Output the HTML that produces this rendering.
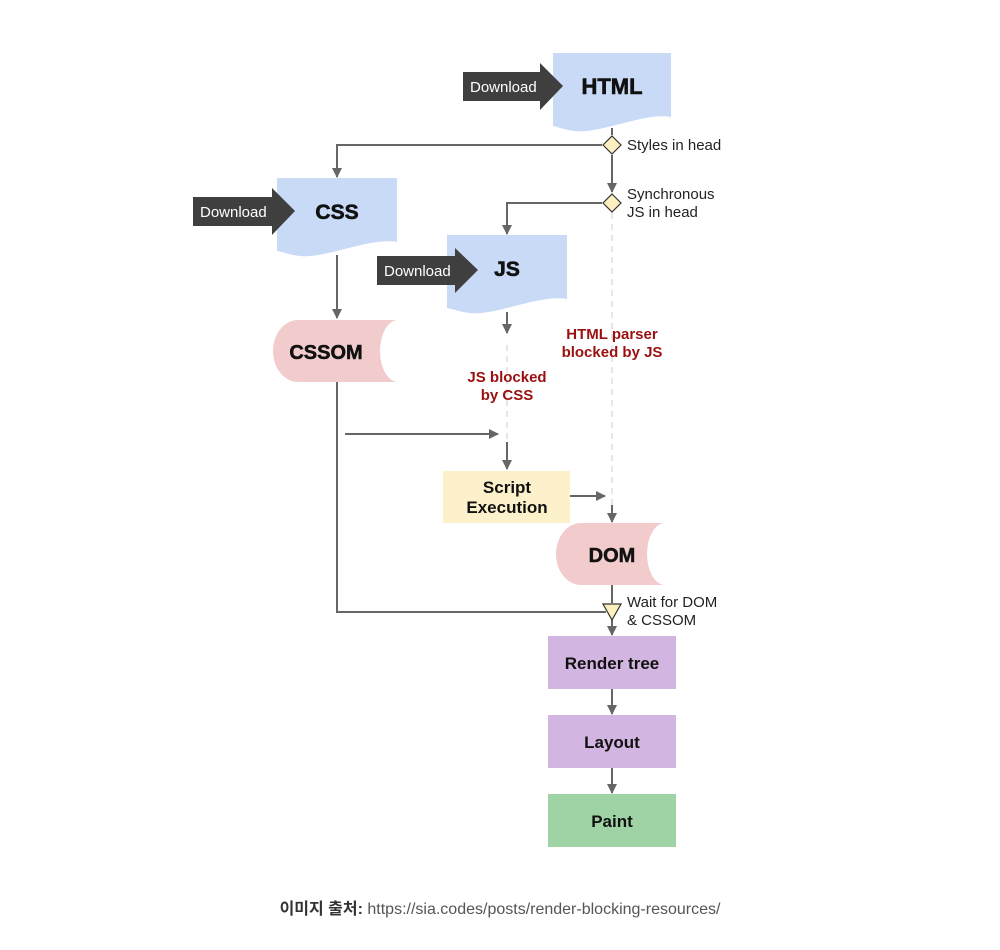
<!DOCTYPE html>
<html><head><meta charset="utf-8"><style>
html,body{margin:0;padding:0;background:#fff;width:1000px;height:950px;overflow:hidden}
svg{display:block}
.b{font-family:"Liberation Sans","DejaVu Sans",sans-serif;font-weight:bold;fill:#111}
.n{font-family:"Liberation Sans","DejaVu Sans",sans-serif;fill:#222}
.r{font-family:"Liberation Sans","DejaVu Sans",sans-serif;font-weight:bold;fill:#9a1010;font-size:15px}
</style></head><body>
<svg width="1000" height="950" viewBox="0 0 1000 950" xmlns="http://www.w3.org/2000/svg">
<defs><marker id="a" markerWidth="10" markerHeight="10" refX="9" refY="5" orient="auto" markerUnits="userSpaceOnUse"><path d="M0,0 L10,5 L0,10 Z" fill="#666"/></marker></defs>
<g stroke="#666" stroke-width="2" fill="none">
<line x1="612" y1="128" x2="612" y2="135"/>
<polyline points="602,145 337,145 337,177" marker-end="url(#a)"/>
<line x1="612" y1="155" x2="612" y2="192" marker-end="url(#a)"/>
<polyline points="602,203 507,203 507,234" marker-end="url(#a)"/>
<line x1="337" y1="255" x2="337" y2="318" marker-end="url(#a)"/>
<line x1="507" y1="312" x2="507" y2="333" marker-end="url(#a)"/>
<line x1="345" y1="434" x2="498" y2="434" marker-end="url(#a)"/>
<line x1="507" y1="442" x2="507" y2="469" marker-end="url(#a)"/>
<line x1="570" y1="496" x2="605" y2="496" marker-end="url(#a)"/>
<line x1="612" y1="505" x2="612" y2="522" marker-end="url(#a)"/>
<polyline points="337,382 337,612 606,612"/>
<line x1="612" y1="585" x2="612" y2="603"/>
<line x1="612" y1="620" x2="612" y2="635" marker-end="url(#a)"/>
<line x1="612" y1="689" x2="612" y2="714" marker-end="url(#a)"/>
<line x1="612" y1="768" x2="612" y2="793" marker-end="url(#a)"/>
</g>
<g stroke="#ddd" stroke-width="1.5" stroke-dasharray="6,5" fill="none">
<line x1="612" y1="213" x2="612" y2="505"/>
<line x1="507" y1="345" x2="507" y2="442"/>
</g>
<g fill="#c8daf5">
<path d="M553,53 H671 V117 C645,112 600,134 575,131 C565,130 558,127 553,126 Z"/>
<path d="M277,178 H397 V242 C370,237 325,259 300,256 C290,255 283,252 277,251 Z"/>
<path d="M447,235 H567 V299 C540,294 495,316 470,313 C460,312 453,309 447,308 Z"/>
</g>
<g fill="#3f3f3f">
<path d="M463,72 H540 V63 L563,86 L540,110 V101 H463 Z"/>
<path d="M193,197 H272 V188 L295,211 L272,235 V226 H193 Z"/>
<path d="M377,256 H455 V248 L478,270 L455,293 V285 H377 Z"/>
</g>
<g font-family="Liberation Sans, sans-serif" font-size="15" fill="#fff">
<text x="470" y="92">Download</text>
<text x="200" y="217">Download</text>
<text x="384" y="276">Download</text>
</g>
<text class="b" x="612" y="94" font-size="22" text-anchor="middle" stroke="#111" stroke-width="0.6">HTML</text>
<text class="b" x="337" y="219" font-size="21" text-anchor="middle" stroke="#111" stroke-width="0.6">CSS</text>
<text class="b" x="507" y="276" font-size="21" text-anchor="middle" stroke="#111" stroke-width="0.6">JS</text>
<g fill="#fdf0c0" stroke="#333" stroke-width="1.2">
<path d="M612,136 L621,145 L612,154 L603,145 Z"/>
<path d="M612,194 L621,203 L612,212 L603,203 Z"/>
<path d="M603,604 L621,604 L612,620 Z"/>
</g>
<g class="n" font-size="15">
<text x="627" y="150">Styles in head</text>
<text x="627" y="199">Synchronous</text>
<text x="627" y="217">JS in head</text>
<text x="627" y="607">Wait for DOM</text>
<text x="627" y="625">&amp; CSSOM</text>
</g>
<g fill="#f2cccc">
<path d="M298,320 H398 A18,31 0 0 0 398,382 H298 A25,31 0 0 1 298,320 Z"/>
<path d="M581,523 H665 A18,31 0 0 0 665,585 H581 A25,31 0 0 1 581,523 Z"/>
</g>
<text class="b" x="326" y="359" font-size="20" text-anchor="middle" stroke="#111" stroke-width="0.5">CSSOM</text>
<text class="b" x="612" y="562" font-size="20" text-anchor="middle" stroke="#111" stroke-width="0.5">DOM</text>
<text class="r" x="612" y="339" text-anchor="middle">HTML parser</text>
<text class="r" x="612" y="357" text-anchor="middle">blocked by JS</text>
<text class="r" x="507" y="382" text-anchor="middle">JS blocked</text>
<text class="r" x="507" y="400" text-anchor="middle">by CSS</text>
<rect x="443" y="471" width="127" height="52" fill="#fdf1cc"/>
<text class="b" x="507" y="493" font-size="17" text-anchor="middle">Script</text>
<text class="b" x="507" y="513" font-size="17" text-anchor="middle">Execution</text>
<rect x="548" y="636" width="128" height="53" fill="#d2b5e0"/>
<text class="b" x="612" y="669" font-size="17" text-anchor="middle">Render tree</text>
<rect x="548" y="715" width="128" height="53" fill="#d2b5e0"/>
<text class="b" x="612" y="748" font-size="17" text-anchor="middle">Layout</text>
<rect x="548" y="794" width="128" height="53" fill="#9fd3a6"/>
<text class="b" x="612" y="827" font-size="17" text-anchor="middle">Paint</text>
<text x="500" y="914" text-anchor="middle" font-size="16" font-family="Liberation Sans, Noto Sans CJK KR, sans-serif"><tspan fill="#333" font-weight="bold">이미지 출처:</tspan><tspan fill="#555"> https://sia.codes/posts/render-blocking-resources/</tspan></text>
</svg>
</body></html>
